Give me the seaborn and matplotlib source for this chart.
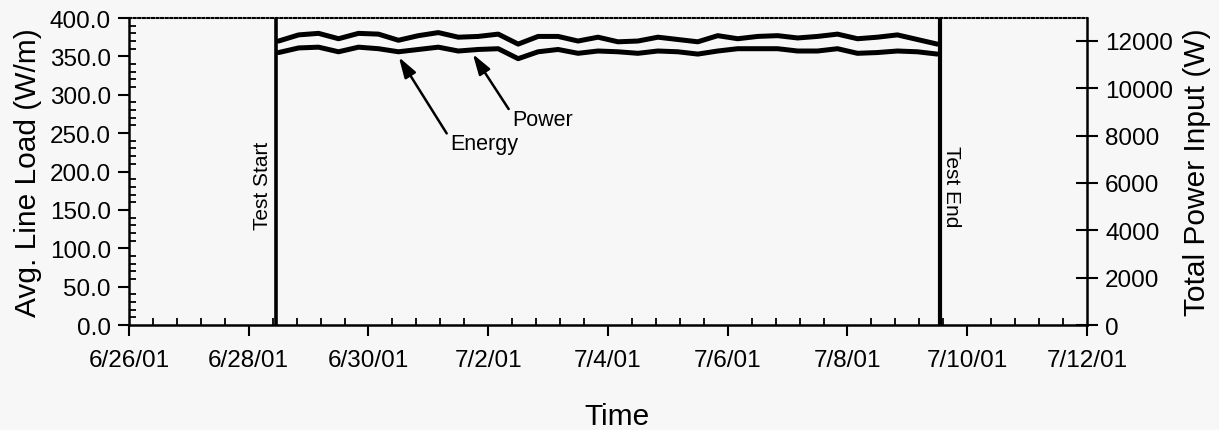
import numpy as np
import pandas as pd
import matplotlib
matplotlib.use("Agg")
import matplotlib.pyplot as plt
import matplotlib.dates as mdates
from matplotlib.ticker import AutoMinorLocator
import seaborn as sns

# ---------------- data ----------------
times = pd.date_range("2001-06-28 12:00", periods=34, freq="8h")
power_wm = [370, 378, 380, 373, 380, 379, 371, 377, 381, 375, 376, 379,
            366, 376, 376, 370, 375, 369, 370, 375, 372, 369, 377, 373,
            376, 377, 374, 376, 379, 373, 375, 378, 372, 366]
energy_wm = [355, 361, 362, 356, 362, 360, 356, 359, 362, 357, 359, 360,
             347, 356, 359, 354, 357, 356, 354, 357, 356, 353, 357, 360,
             360, 360, 357, 357, 360, 354, 355, 357, 356, 353]
test_start = pd.Timestamp("2001-06-28 10:55")
test_end = pd.Timestamp("2001-07-09 13:05")
x_tick_dates = pd.to_datetime(["2001-06-26", "2001-06-28", "2001-06-30", "2001-07-02",
                               "2001-07-04", "2001-07-06", "2001-07-08", "2001-07-10",
                               "2001-07-12"])
x_tick_labels = ["6/26/01", "6/28/01", "6/30/01", "7/2/01", "7/4/01",
                 "7/6/01", "7/8/01", "7/10/01", "7/12/01"]
left_ticks = [0, 50, 100, 150, 200, 250, 300, 350, 400]
left_tick_labels = ["0.0", "50.0", "100.0", "150.0", "200.0", "250.0",
                    "300.0", "350.0", "400.0"]
right_ticks = [0, 2000, 4000, 6000, 8000, 10000, 12000]
right_max = 12960

power_anno = dict(xy=(pd.Timestamp("2001-07-01 17:50"), 353),
                  xytext=(pd.Timestamp("2001-07-02 09:30"), 268))
energy_anno = dict(xy=(pd.Timestamp("2001-06-30 12:10"), 349),
                   xytext=(pd.Timestamp("2001-07-01 08:40"), 236))

df = pd.DataFrame({"Time": times, "Power": power_wm, "Energy": energy_wm})

# ---------------- style ----------------
sns.set_theme(style="ticks")
plt.rcParams["font.family"] = ["Liberation Sans", "DejaVu Sans"]
for k in ["text.color", "axes.labelcolor", "xtick.color", "ytick.color", "axes.edgecolor"]:
    plt.rcParams[k] = "black"
bg = "#f7f7f7"

fig = plt.figure(figsize=(12.19, 4.31), dpi=100, facecolor=bg)
ax = fig.add_axes([0.1058, 0.2436, 0.7859, 0.7123])
ax.set_facecolor(bg)

sns.lineplot(data=df, x="Time", y="Power", ax=ax, color="black", lw=3.6)
sns.lineplot(data=df, x="Time", y="Energy", ax=ax, color="black", lw=3.6)

ax.axvline(test_start, color="black", lw=2.6)
ax.axvline(test_end, color="black", lw=3.0)

ax.set_xlim(x_tick_dates[0], x_tick_dates[-1])
ax.set_ylim(0, 400)
ax.set_xticks(x_tick_dates)
ax.set_xticklabels(x_tick_labels)
ax.xaxis.set_minor_locator(AutoMinorLocator(5))
ax.set_yticks(left_ticks)
ax.set_yticklabels(left_tick_labels)
ax.yaxis.set_minor_locator(AutoMinorLocator(5))

ax.tick_params(axis="x", which="major", direction="out", length=8, width=1.5,
               labelsize=17.5, pad=9, colors="black")
ax.tick_params(axis="x", which="minor", direction="in", length=5, width=1.3)
ax.tick_params(axis="y", which="major", direction="out", length=8, width=1.5,
               labelsize=17.5, pad=5, colors="black")
ax.tick_params(axis="y", which="minor", direction="in", length=5, width=1.3)

for s in ["left", "bottom"]:
    ax.spines[s].set_linewidth(1.8)
    ax.spines[s].set_color("black")
ax.spines["top"].set_linestyle((0, (1, 1.2)))
ax.spines["top"].set_linewidth(1.5)
ax.spines["top"].set_color("black")
ax.spines["right"].set_visible(False)

ax.set_xlabel("Time", fontsize=21.5)
ax.set_ylabel("Avg. Line Load (W/m)", fontsize=21.5)
ax.xaxis.set_label_coords(0.5094, -0.25)
ax.yaxis.set_label_coords(-0.0908, 0.5)

ax2 = ax.twinx()
ax2.set_ylim(0, right_max)
ax2.set_yticks(right_ticks)
ax2.set_yticklabels([str(v) for v in right_ticks])
ax2.tick_params(axis="y", which="major", direction="inout", length=16, width=1.5,
                labelsize=17.5, pad=5, colors="black")
ax2.spines["right"].set_linewidth(1.8)
ax2.spines["right"].set_color("black")
ax2.spines["top"].set_visible(False)
ax2.spines["left"].set_visible(False)
ax2.spines["bottom"].set_visible(False)
ax2.set_ylabel("Total Power Input (W)", fontsize=21.5)
ax2.yaxis.set_label_coords(1.1002, 0.5)

ax.text(pd.Timestamp("2001-06-28 05:40"), (326 - 186) * 400 / 307,
        "Test Start", rotation=90, ha="center", va="center", fontsize=15)
ax.text(pd.Timestamp("2001-07-09 17:30"), (326 - 187) * 400 / 307,
        "Test End", rotation=270, ha="center", va="center", fontsize=15)

arrow = dict(arrowstyle="-|>,head_length=0.8,head_width=0.25", color="black",
             lw=1.8, shrinkA=0, shrinkB=0, relpos=(0, 0.75))
ax.annotate("Power", xy=power_anno["xy"], xytext=power_anno["xytext"],
            fontsize=15.5, ha="left", va="center", arrowprops=arrow)
ax.annotate("Energy", xy=energy_anno["xy"], xytext=energy_anno["xytext"],
            fontsize=15.5, ha="left", va="center", arrowprops=arrow)

fig.savefig("out.png", dpi=100, facecolor=bg)
